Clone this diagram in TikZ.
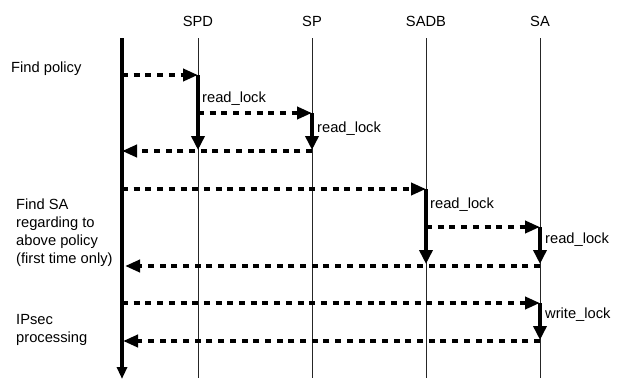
\documentclass[tikz,border=0pt]{standalone}
\usepackage{fontspec}
\setmainfont{Liberation Sans}
\usetikzlibrary{arrows.meta}

\begin{document}
\begin{tikzpicture}[x=1pt,y=-1pt,
  every node/.style={inner sep=0pt, font=\fontsize{14.7}{18}\selectfont},
  lifeline/.style={line width=0.8pt, black!85},
  mainline/.style={line width=3.5pt, -{Triangle[length=12pt,width=10pt]}},
  msg/.style={line width=4pt, dash pattern=on 6pt off 5.7pt,
              -{Triangle[length=15pt,width=12pt]}},
  lockbar/.style={line width=4pt, -{Triangle[length=14pt,width=13pt]}},
  locklabel/.style={anchor=base west},
  phase/.style={anchor=base west, align=left}
]
\useasboundingbox (0,0) rectangle (618,378);

% column headers
\node[anchor=base] (hSPD)  at (198,26) {SPD};
\node[anchor=base] (hSP)   at (312,26) {SP};
\node[anchor=base] (hSADB) at (426,26) {SADB};
\node[anchor=base] (hSA)   at (540,26) {SA};

% lifeline end points
\coordinate (mainTop) at (122,38);  \coordinate (mainBot) at (122,379);
\coordinate (spdTop)  at (198,38);  \coordinate (spdBot)  at (198,378);
\coordinate (spTop)   at (312,38);  \coordinate (spBot)   at (312,378);
\coordinate (sadbTop) at (426,38);  \coordinate (sadbBot) at (426,378);
\coordinate (saTop)   at (540,38);  \coordinate (saBot)   at (540,378);

\draw[lifeline] (spdTop) -- (spdBot);
\draw[lifeline] (spTop) -- (spBot);
\draw[lifeline] (sadbTop) -- (sadbBot);
\draw[lifeline] (saTop) -- (saBot);
\draw[mainline] (mainTop) -- (mainBot);

% phase descriptions (multi-line nodes are anchored at their last baseline)
\node[phase] (pPolicy) at (11,72) {Find policy};
\node[phase] (pSA) at (16,263) {Find SA\\regarding to\\above policy\\(first time only)};
\node[phase] (pIPsec) at (16,342) {IPsec\\processing};

% --- find policy ---
\coordinate (m1a) at (122,75);  \coordinate (m1b) at (198,75);
\coordinate (l1a) at (198,75);  \coordinate (l1b) at (198,150);
\coordinate (m2a) at (198,113); \coordinate (m2b) at (312,113);
\coordinate (l2a) at (312,113); \coordinate (l2b) at (312,150);
\coordinate (r1a) at (312,151); \coordinate (r1b) at (122,151);
\draw[msg] (m1a) -- (m1b);
\draw[lockbar] (l1a) -- (l1b);
\draw[msg] (m2a) -- (m2b);
\draw[lockbar] (l2a) -- (l2b);
\draw[msg] (r1a) -- (r1b);
\node[locklabel] (k1) at (202,102) {read\_lock};
\node[locklabel] (k2) at (317,132) {read\_lock};

% --- find SA ---
\coordinate (m3a) at (122,189); \coordinate (m3b) at (426,189);
\coordinate (l3a) at (426,189); \coordinate (l3b) at (426,264);
\coordinate (m4a) at (426,227); \coordinate (m4b) at (540,227);
\coordinate (l4a) at (540,227); \coordinate (l4b) at (540,264);
\coordinate (r2a) at (540,266); \coordinate (r2b) at (125,266);
\draw[msg] (m3a) -- (m3b);
\draw[lockbar] (l3a) -- (l3b);
\draw[msg] (m4a) -- (m4b);
\draw[lockbar] (l4a) -- (l4b);
\draw[msg] (r2a) -- (r2b);
\node[locklabel] (k3) at (430,208) {read\_lock};
\node[locklabel] (k4) at (545,243) {read\_lock};

% --- IPsec processing ---
\coordinate (m5a) at (122,303); \coordinate (m5b) at (540,303);
\coordinate (l5a) at (540,303); \coordinate (l5b) at (540,340);
\coordinate (r3a) at (540,341); \coordinate (r3b) at (123,341);
\draw[msg] (m5a) -- (m5b);
\draw[lockbar] (l5a) -- (l5b);
\draw[msg] (r3a) -- (r3b);
\node[locklabel] (k5) at (545,318) {write\_lock};
\end{tikzpicture}
\end{document}
